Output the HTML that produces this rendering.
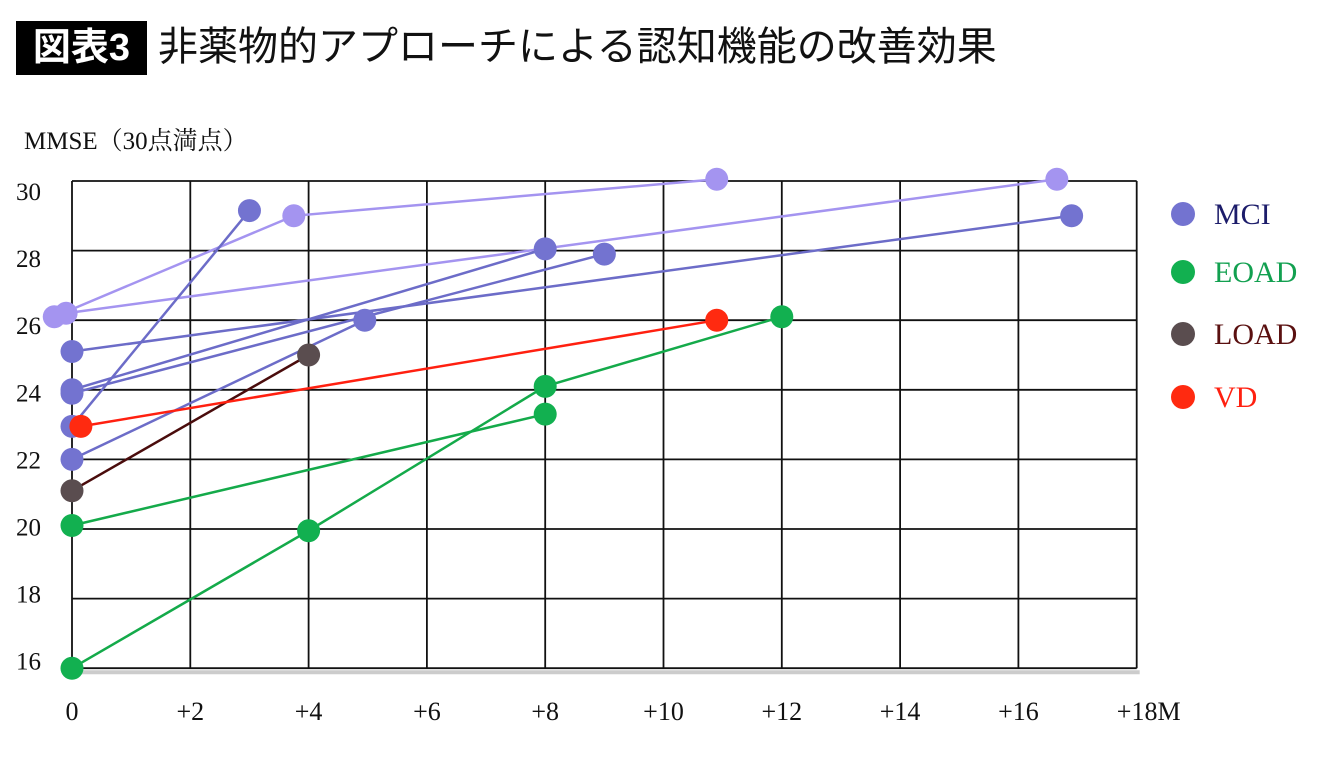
<!DOCTYPE html>
<html><head><meta charset="utf-8">
<style>
html,body{margin:0;padding:0;background:#fff;width:1340px;height:761px;overflow:hidden}
#title-badge{position:absolute;left:16px;top:21px;width:131px;height:54px;background:#000;color:#fff;font:bold 38px "Liberation Sans","Noto Sans CJK JP",sans-serif;line-height:54px;text-align:center}
#title{position:absolute;left:158px;top:20px;font:40px "Liberation Sans","Noto Sans CJK JP",sans-serif;line-height:54px;color:#111}
svg{position:absolute;left:0;top:0}
</style></head><body>
<div id="title-badge">図表3</div>
<div id="title">非薬物的アプローチによる認知機能の改善効果</div>
<svg id="chart" width="1340" height="761"></svg>
<script>
const xTicks=[0,2,4,6,8,10,12,14,16,18];
const xTickLabels=["0","+2","+4","+6","+8","+10","+12","+14","+16","+18M"];
const yTicks=[16,18,20,22,24,26,28,30];
// series: each line is list of [month, score]
const mciLightSeries=[[[-0.3,26.1],[3.75,29.0],[10.9,30.05]],[[-0.1,26.2],[16.65,30.05]]];
const mciSeries=[[[0,22.95],[3.0,29.15]],[[0,25.1],[16.9,29.0]],[[0,24.0],[8,28.05]],[[0,23.9],[9,27.9]],[[0,22.0],[4.95,26.0]]];
const loadSeries=[[[0,21.1],[4,25.0]]];
const vdSeries=[[[0.15,22.95],[10.9,26.0]]];
const eoadSeries=[[[0,20.1],[8,23.3]],[[0,16.0],[4,19.95],[8,24.1],[12,26.1]]];
const legendLabels=["MCI","EOAD","LOAD","VD"];

const X0=72,XU=59.15,Y30=181,YU=34.8;
const sx=v=>X0+v*XU, sy=v=>Y30+(30-v)*YU;
const svg=document.getElementById('chart');
const NS='http://www.w3.org/2000/svg';
function mk(tag,attrs,parent){const e=document.createElementNS(NS,tag);for(const k in attrs)e.setAttribute(k,attrs[k]);(parent||svg).appendChild(e);return e;}
const serif='"Liberation Serif","Noto Serif CJK SC",serif';
let t=mk('text',{x:24,y:149,'font-size':25,'font-family':serif,fill:'#111'});
t.textContent='MMSE（30点満点）';


const grid=mk('g',{});


mk('line',{x1:sx(0)+3,y1:sy(16)+4,x2:sx(18)+3,y2:sy(16)+4,stroke:'#ccc','stroke-width':4},grid);
yTicks.forEach(v=>{
  const l=mk('line',{x1:sx(0),y1:sy(v),x2:sx(18),y2:sy(v),stroke:'#111','stroke-width':1.8},grid);
  
  
  const tx=mk('text',{x:41,y:191+(30-v)*33.55+9,'font-size':25,'font-family':serif,'text-anchor':'end',fill:'#111'});
  tx.textContent=v;
  
  
});
xTicks.forEach((v,i)=>{
  const l=mk('line',{x1:sx(v),y1:sy(30),x2:sx(v),y2:sy(16),stroke:'#111','stroke-width':1.8},grid);
  
  
  const tx=mk('text',{x:sx(v)+(i==9?12:0),y:720,'font-size':26,'font-family':serif,'text-anchor':'middle',fill:'#111'});
  tx.textContent=xTickLabels[i];
  
  
});
function draw(series,lineColor,dotColor,name){
  series.forEach(s=>{
    const pl=mk('polyline',{points:s.map(p=>sx(p[0])+','+sy(p[1])).join(' '),fill:'none',stroke:lineColor,'stroke-width':2.5});
    
    
  });
  series.forEach(s=>s.forEach(p=>{
    const c=mk('circle',{cx:sx(p[0]),cy:sy(p[1]),r:11.5,fill:dotColor});
    
    
  }));
}
draw(mciLightSeries,'#a494f0','#a494f0','mci-light');
draw(mciSeries,'#6c6cc8','#7373d0','mci');
draw(eoadSeries,'#14aa4a','#12b050','eoad');
draw(loadSeries,'#4a0c0c','#5a4d4f','load');
draw(vdSeries,'#ff2010','#ff2a10','vd');
const legColors=['#7373d0','#12b050','#5a4d4f','#ff2a10'];
const legText=['#1c1c6a','#12a050','#5a1010','#ff2010'];
const legY=[214,272,334,397];
legendLabels.forEach((lab,i)=>{
  const g=mk('g',{});
  
  
  mk('circle',{cx:1183,cy:legY[i],r:12,fill:legColors[i]},g);
  const tx=mk('text',{x:1214,y:legY[i]+10,'font-size':30,'font-family':serif,fill:legText[i]},g);
  tx.textContent=lab;
});
</script>
</body></html>
